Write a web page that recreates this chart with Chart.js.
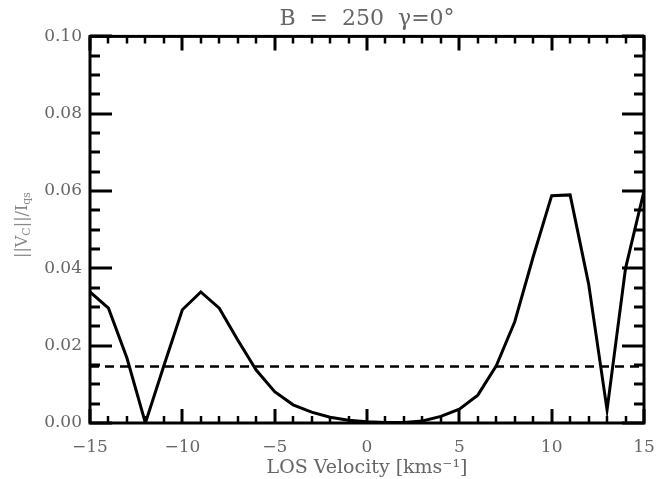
<!DOCTYPE html>
<html>
<head>
<meta charset="utf-8">
<script src="https://cdn.jsdelivr.net/npm/chart.js@4"></script>
<style>
    html, body { margin: 0; padding: 0; background: #fff; }
    #wrap { width: 658px; height: 479px; }
</style>
</head>
<body>
<div id="wrap"><canvas id="grafico"></canvas></div>
<script>
    // dati
    var velocita = [-15,-14,-13,-12,-11,-10,-9,-8,-7,-6,-5,-4,-3,-2,-1,0,1,2,3,4,5,6,7,8,9,10,11,12,13,14,15];
    var vc = [0.0339,0.0297,0.0168,0.0000,0.0148,0.0293,0.0339,0.0297,0.0215,0.0137,0.0081,0.0047,0.0028,0.0015,0.0007,0.0003,0.0001,0.0001,0.0005,0.0017,0.0036,0.0072,0.0148,0.0262,0.0430,0.0588,0.0590,0.0360,0.0034,0.0400,0.0600];
    var soglia = 0.0146;
    var xTicks = [-15,-10,-5,0,5,10,15];
    var yTicks = [0,0.02,0.04,0.06,0.08,0.10];

    var grigio = '#666';
    var fontSerif = '"DejaVu Serif", serif';

    // cornice con tacche verso l'interno + titolo asse y
    var cornice = {
        id: 'cornice',
        afterDraw: function(chart){
            var ctx = chart.ctx, a = chart.chartArea;
            var sx = chart.scales.x, sy = chart.scales.y;
            ctx.save();
            ctx.strokeStyle = '#000';
            ctx.lineCap = 'butt';
            // tacche x
            for (var v = -15; v <= 15; v++) {
                var px = Math.round(sx.getPixelForValue(v));
                var big = (v % 5 === 0);
                ctx.lineWidth = big ? 3 : 2.5;
                var l = big ? 14 : 7;
                ctx.beginPath();
                ctx.moveTo(px, a.bottom); ctx.lineTo(px, a.bottom - l);
                ctx.moveTo(px, a.top); ctx.lineTo(px, a.top + l);
                ctx.stroke();
            }
            // tacche y
            for (var k = 0; k <= 20; k++) {
                var val = k * 0.005;
                var py = Math.round(sy.getPixelForValue(val));
                var bigY = (k % 4 === 0);
                ctx.lineWidth = 3;
                var ly = bigY ? 22 : 10;
                ctx.beginPath();
                ctx.moveTo(a.left, py); ctx.lineTo(a.left + ly, py);
                ctx.moveTo(a.right, py); ctx.lineTo(a.right - ly, py);
                ctx.stroke();
            }
            ctx.lineWidth = 3;
            ctx.strokeRect(a.left, a.top, a.right - a.left, a.bottom - a.top);

            // titolo asse y con pedici
            ctx.translate(23, 225);
            ctx.rotate(-Math.PI / 2);
            ctx.fillStyle = '#888';
            ctx.textBaseline = 'middle';
            var parti = [['||V', 16, 0], ['C', 11, 4], ['||/I', 16, 0], ['qs', 11, 4]];
            var tot = 0;
            parti.forEach(function(p){ ctx.font = p[1] + 'px ' + fontSerif; tot += ctx.measureText(p[0]).width; });
            var x0 = -tot / 2;
            parti.forEach(function(p){
                ctx.font = p[1] + 'px ' + fontSerif;
                ctx.fillText(p[0], x0, p[2]);
                x0 += ctx.measureText(p[0]).width;
            });
            ctx.restore();
        }
    };

    new Chart('grafico', {
        type: 'line',
        data: {
            datasets: [{
                data: velocita.map(function(v, i){ return {x: v, y: vc[i]}; }),
                borderColor: '#000',
                borderWidth: 3,
                pointRadius: 0,
                tension: 0,
                fill: false
            }, {
                data: [{x: -15, y: soglia}, {x: 15, y: soglia}],
                borderColor: '#000',
                borderWidth: 2.5,
                borderDash: [9, 6],
                pointRadius: 0,
                fill: false
            }]
        },
        options: {
            responsive: true,
            maintainAspectRatio: false,
            animation: false,
            layout: { padding: { right: 14, left: 0, top: 0, bottom: 0 } },
            plugins: {
                legend: { display: false },
                tooltip: { enabled: false },
                title: {
                    display: true,
                    fullSize: false,
                    text: 'B  =  250  \u03b3=0\u00b0',
                    color: grigio,
                    font: { family: fontSerif, size: 22, weight: 'normal' },
                    padding: { top: 6, bottom: 4 }
                }
            },
            scales: {
                x: {
                    type: 'linear',
                    min: -15, max: 15,
                    afterBuildTicks: function(s){ s.ticks = xTicks.map(function(v){ return {value: v}; }); },
                    afterFit: function(s){ s.height = 56; s.paddingLeft = 0; s.paddingRight = 0; },
                    grid: { display: false, drawTicks: false },
                    border: { display: false },
                    ticks: {
                        color: grigio,
                        padding: 14,
                        maxRotation: 0,
                        font: { family: fontSerif, size: 17 },
                        callback: function(v){ return v < 0 ? '\u2212' + Math.abs(v) : String(v); }
                    },
                    title: {
                        display: true,
                        text: 'LOS Velocity [kms\u207b\u00b9]',
                        color: grigio,
                        font: { family: fontSerif, size: 19 },
                        padding: { top: 0, bottom: 0 }
                    }
                },
                y: {
                    type: 'linear',
                    min: 0, max: 0.10,
                    afterBuildTicks: function(s){ s.ticks = yTicks.map(function(v){ return {value: v}; }); },
                    afterFit: function(s){ s.width = 90; s.paddingTop = 0; s.paddingBottom = 0; },
                    grid: { display: false, drawTicks: false },
                    border: { display: false },
                    ticks: {
                        color: grigio,
                        padding: 8,
                        font: { family: fontSerif, size: 17 },
                        callback: function(v){ return v.toFixed(2); }
                    }
                }
            }
        },
        plugins: [cornice]
    });
</script>
</body>
</html>
